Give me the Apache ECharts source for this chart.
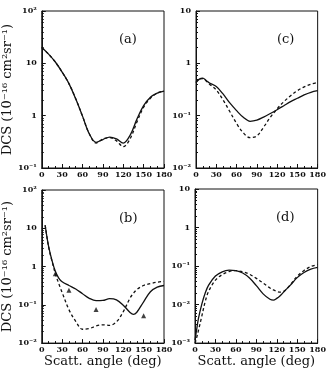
<!DOCTYPE html>
<html>
<head>
<meta charset="utf-8">
<script src="https://cdn.jsdelivr.net/npm/echarts@6/dist/echarts.min.js"></script>
<style>
html,body{margin:0;padding:0;background:#fff;}
#chart{width:329px;height:369px;}
</style>
</head>
<body>
<div id="chart"></div>
<script>
// scattering angles (deg) and cross sections
var angA = [0,10,20,30,40,50,60,70,80,90,100,110,120,130,140,150,160,170,180];
var solidA = [20,15,10.6,6.8,4.1,2.1,0.98,0.45,0.31,0.35,0.39,0.36,0.30,0.42,0.85,1.55,2.25,2.7,2.95];
var dashA = [20,15,10.6,6.8,4.1,2.1,0.98,0.45,0.30,0.36,0.38,0.33,0.255,0.36,0.75,1.45,2.15,2.7,2.95];

var angB = [5,10,15,20,25,30,40,50,60,70,80,90,100,110,120,130,135,140,150,160,170,180];
var solidB = [12,3.4,1.45,0.75,0.50,0.40,0.32,0.26,0.195,0.148,0.128,0.13,0.145,0.135,0.098,0.063,0.056,0.064,0.12,0.22,0.29,0.32];
var dashB = [12,3.3,1.4,0.65,0.36,0.21,0.075,0.037,0.023,0.024,0.028,0.030,0.029,0.036,0.066,0.15,0.2,0.25,0.32,0.36,0.39,0.41];
var expAngB = [20,40,80,150];
var expB = [0.65,0.24,0.075,0.052];

var angC = [0,5,10,15,20,30,40,50,60,70,80,90,100,110,120,130,140,150,160,170,180];
var solidC = [0.43,0.50,0.52,0.47,0.42,0.36,0.26,0.175,0.125,0.093,0.078,0.082,0.094,0.11,0.13,0.155,0.185,0.215,0.25,0.28,0.30];
var dashC = [0.43,0.50,0.51,0.46,0.40,0.31,0.20,0.12,0.071,0.047,0.038,0.041,0.06,0.093,0.135,0.185,0.24,0.30,0.355,0.40,0.43];

var angD = [0,2,5,10,15,20,30,40,50,60,70,80,90,100,110,115,120,125,130,135,140,150,160,170,180];
var solidD = [0.0012,0.002,0.0043,0.0103,0.02,0.032,0.055,0.071,0.078,0.076,0.066,0.049,0.031,0.019,0.0137,0.013,0.0145,0.017,0.021,0.026,0.032,0.05,0.068,0.083,0.092];
var dashD = [0.001,0.0013,0.0021,0.005,0.012,0.022,0.043,0.06,0.072,0.076,0.071,0.061,0.048,0.036,0.027,0.024,0.022,0.021,0.022,0.026,0.033,0.054,0.077,0.097,0.11];

var xTicks = [0,30,60,90,120,150,180];
var decadeVals = [0.001,0.01,0.1,1,10,100];
var decadeText = ['10⁻³','10⁻²','10⁻¹','1','10','10²'];
var panelNames = ['(a)','(b)','(c)','(d)'];
var yTitle = 'DCS (10⁻¹⁶ cm²sr⁻¹)';
var xTitle = 'Scatt. angle (deg)';

function pairs(xs, ys){
    return xs.map(function(x,i){ return [x, ys[i]]; });
}
function decadeLabel(v){
    for (var i = 0; i < decadeVals.length; i++) {
        if (Math.abs(Math.log10(v) - Math.log10(decadeVals[i])) < 0.01) return decadeText[i];
    }
    return '';
}

var serif = 'DejaVu Serif';
var grids = [
    {left:38, top:11, width:126, height:157},
    {left:38, top:190, width:126, height:158},
    {left:196, top:11, width:126, height:157},
    {left:195, top:189, width:126, height:157}
];
var yRange = [[0.1,100],[0.01,100],[0.01,10],[0.001,10]];

var chart = echarts.init(document.getElementById('chart'));
var option = {
    animation:false,
    backgroundColor:'#fff',
    title: panelNames.map(function(t,i){
        var g = grids[i];
        return {
            text:t,
            left:g.left + 76,
            top:g.top + 17,
            textStyle:{fontFamily:serif, fontSize:13, fontWeight:'normal', color:'#111'}
        };
    }),
    grid: grids.map(function(g){
        return {left:g.left, top:g.top, width:g.width, height:g.height,
                show:true, borderColor:'#111', borderWidth:1};
    }),
    xAxis: grids.map(function(g,i){
        return {
            gridIndex:i, type:'value', min:0, max:180, interval:30,
            name:(i==1||i==3) ? xTitle : '',
            nameLocation:'middle', nameGap:10,
            nameTextStyle:{fontFamily:serif, fontSize:13, color:'#111', verticalAlign:'top'},
            axisLine:{lineStyle:{color:'#111', width:1}},
            axisTick:{inside:true, length:4, lineStyle:{color:'#111'}},
            minorTick:{show:true, splitNumber:3, length:2, lineStyle:{color:'#111'}},
            splitLine:{show:false},
            axisLabel:{fontFamily:serif, fontSize:8, fontWeight:'bold', color:'#111', margin:3,
                formatter:function(v){ return xTicks.indexOf(v) >= 0 ? String(v) : ''; }}
        };
    }),
    yAxis: grids.map(function(g,i){
        return {
            gridIndex:i, type:'log', logBase:10, min:yRange[i][0], max:yRange[i][1],
            name:(i==0||i==1) ? yTitle : '',
            nameLocation:'middle', nameGap:15,
            nameTextStyle:{fontFamily:serif, fontSize:13, color:'#111'},
            axisLine:{show:true, lineStyle:{color:'#111', width:1}},
            axisTick:{inside:true, length:4, lineStyle:{color:'#111'}},
            minorTick:{show:true, splitNumber:9, length:2, lineStyle:{color:'#111'}},
            splitLine:{show:false},
            axisLabel:{fontFamily:serif, fontSize:8, fontWeight:'bold', color:'#111', margin:5,
                formatter:decadeLabel}
        };
    }),
    series: [
        {type:'line', xAxisIndex:0, yAxisIndex:0, data:pairs(angA, solidA)},
        {type:'line', xAxisIndex:0, yAxisIndex:0, data:pairs(angA, dashA), dashed:true},
        {type:'line', xAxisIndex:1, yAxisIndex:1, data:pairs(angB, solidB)},
        {type:'line', xAxisIndex:1, yAxisIndex:1, data:pairs(angB, dashB), dashed:true},
        {type:'line', xAxisIndex:2, yAxisIndex:2, data:pairs(angC, solidC)},
        {type:'line', xAxisIndex:2, yAxisIndex:2, data:pairs(angC, dashC), dashed:true},
        {type:'line', xAxisIndex:3, yAxisIndex:3, data:pairs(angD, solidD)},
        {type:'line', xAxisIndex:3, yAxisIndex:3, data:pairs(angD, dashD), dashed:true}
    ].map(function(s){
        s.smooth = 0.35;
        s.showSymbol = false;
        s.lineStyle = {color:'#111', width:1.3, type: s.dashed ? [3,2.5] : 'solid'};
        delete s.dashed;
        return s;
    }).concat([{
        type:'scatter', xAxisIndex:1, yAxisIndex:1,
        symbol:'triangle', symbolSize:5,
        itemStyle:{color:'#111'},
        data:pairs(expAngB, expB)
    }])
};
chart.setOption(option);
</script>
</body>
</html>
